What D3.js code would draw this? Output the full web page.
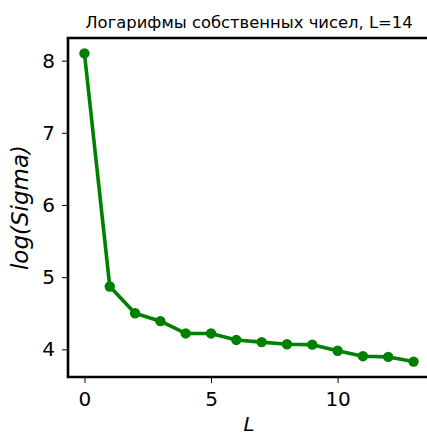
<!DOCTYPE html>
<html>
<head>
<meta charset="utf-8">
<script src="https://cdn.jsdelivr.net/npm/d3@7"></script>
<style>
  html, body { margin: 0; padding: 0; background: #fff; overflow: hidden; }
  svg { display: block; }
</style>
</head>
<body>
<svg id="chart" width="427" height="435"></svg>
<script>
// Log of singular values of the trajectory matrix, window length L = 14
const components = [0, 1, 2, 3, 4, 5, 6, 7, 8, 9, 10, 11, 12, 13];
const logSigma = [8.10, 4.87, 4.50, 4.39, 4.22, 4.22, 4.13, 4.10, 4.07, 4.065, 3.98, 3.905, 3.895, 3.83];
const xTicks = [0, 5, 10];
const yTicks = [4, 5, 6, 7, 8];
const titleText = "Логарифмы собственных чисел, L=14";

const svg = d3.select("#chart");
const margin = { left: 68, top: 38, right: -3, bottom: 58 };
const W = 427, H = 435;
const plotL = margin.left, plotR = W - margin.right;
const plotT = margin.top, plotB = H - margin.bottom;

// matplotlib-like 5% padding around the data range
const xExt = d3.extent(components), yExt = d3.extent(logSigma);
const xPad = (xExt[1] - xExt[0]) * 0.05, yPad = (yExt[1] - yExt[0]) * 0.05;
const x = d3.scaleLinear().domain([xExt[0] - xPad, xExt[1] + xPad]).range([plotL, plotR]);
const y = d3.scaleLinear().domain([yExt[0] - yPad, yExt[1] + yPad]).range([plotB, plotT]);

const font = "DejaVu Sans, sans-serif";

// axes
const xAxis = svg.append("g").attr("transform", `translate(0,${plotB})`)
  .call(d3.axisBottom(x).tickValues(xTicks).tickSize(6).tickPadding(9).tickFormat(d3.format("d")));
const yAxis = svg.append("g").attr("transform", `translate(${plotL},0)`)
  .call(d3.axisLeft(y).tickValues(yTicks).tickSize(6).tickPadding(7).tickFormat(d3.format("d")));
[xAxis, yAxis].forEach(g => {
  g.select(".domain").remove();
  g.selectAll(".tick line").attr("stroke", "#000").attr("stroke-width", 1);
  g.selectAll(".tick text").attr("font-family", font).attr("font-size", 20).attr("fill", "#000");
});

// series line and markers
const line = d3.line().x((d, i) => x(components[i])).y(d => y(d));
svg.append("path").datum(logSigma)
  .attr("d", line).attr("fill", "none")
  .attr("stroke", "#008000").attr("stroke-width", 3.6)
  .attr("stroke-linejoin", "round");
svg.append("g").selectAll("circle").data(logSigma).join("circle")
  .attr("cx", (d, i) => x(components[i])).attr("cy", d => y(d))
  .attr("r", 5.2).attr("fill", "#008000");

// spines: left, top and bottom (the right one sits past the canvas edge)
const spines = [
  [plotL, plotT, plotL, plotB],
  [plotL - 1.3, plotT, W + 2, plotT],
  [plotL - 1.3, plotB, W + 2, plotB]
];
svg.append("g").selectAll("line").data(spines).join("line")
  .attr("x1", d => d[0]).attr("y1", d => d[1])
  .attr("x2", d => d[2]).attr("y2", d => d[3])
  .attr("stroke", "#000").attr("stroke-width", 2.6);

// title and axis labels
svg.append("text").attr("x", (plotL + plotR) / 2).attr("y", plotT - 10)
  .attr("text-anchor", "middle").attr("font-family", font).attr("font-size", 16.4)
  .attr("fill", "#000").text(titleText);
svg.append("text")
  .attr("transform", `translate(28,${(plotT + plotB) / 2}) rotate(-90)`)
  .attr("text-anchor", "middle").attr("font-family", font).attr("font-size", 23)
  .attr("font-style", "italic").attr("fill", "#000").text("log(Sigma)");
svg.append("text").attr("x", (plotL + plotR) / 2).attr("y", 431)
  .attr("text-anchor", "middle").attr("font-family", font).attr("font-size", 20)
  .attr("font-style", "italic").attr("fill", "#000").text("L");
</script>
</body>
</html>
